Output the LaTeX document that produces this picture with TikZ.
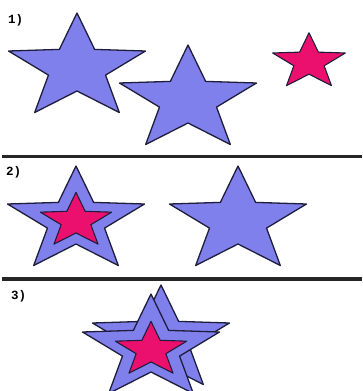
\documentclass[tikz,border=0pt]{standalone}
\usepackage{fontspec}
\setmonofont{Liberation Mono}
\usepackage{tikz}
\definecolor{starblue}{RGB}{128,128,236}
\definecolor{starpink}{RGB}{236,16,110}
\definecolor{starline}{RGB}{30,30,60}
\tikzset{
  pics/fivestar/.style={code={
    \path[pic actions] (90:72 and 55)
      \foreach \i in {0,...,4}{ -- (126+72*\i:30 and 23) -- (162+72*\i:72 and 55)} -- cycle;
  }},
  bluestar/.style={fill=starblue, draw=starline, line width=1.3pt, line join=round},
  pinkstar/.style={fill=starpink, draw=starline, line width=1.1pt, line join=round, scale=0.52},
  steplabel/.style={font=\ttfamily\bfseries\fontsize{12.5}{12.5}\selectfont, anchor=west, inner sep=0pt},
  sepline/.style={line width=3.4pt, draw=black!85},
}

\begin{document}
\begin{tikzpicture}[x=1pt, y=1pt]
  \useasboundingbox (0,0) rectangle (362,-391);

  % --- 1) ---
  \node (lbl1) [steplabel] at (8,-20) {1)};
  \pic[bluestar] at (77,-68)  {fivestar};
  \pic[bluestar] at (188,-100) {fivestar};
  \pic[pinkstar, scale=1.02] at (309,-62) {fivestar};

  \draw[sepline] (2,-156.5) -- (362,-156.5);

  % --- 2) ---
  \node (lbl2) [steplabel] at (6,-172) {2)};
  \pic[bluestar] at (76,-221) {fivestar};
  \pic[pinkstar] at (76,-221) {fivestar};
  \pic[bluestar] at (238,-221) {fivestar};

  \draw[sepline] (2,-279) -- (362,-279);

  % --- 3) ---
  \node (lbl3) [steplabel] at (11,-296) {3)};
  \pic[bluestar] at (161,-340) {fivestar};
  \pic[bluestar] at (151,-349) {fivestar};
  \pic[pinkstar] at (151,-350) {fivestar};

\end{tikzpicture}
\end{document}
